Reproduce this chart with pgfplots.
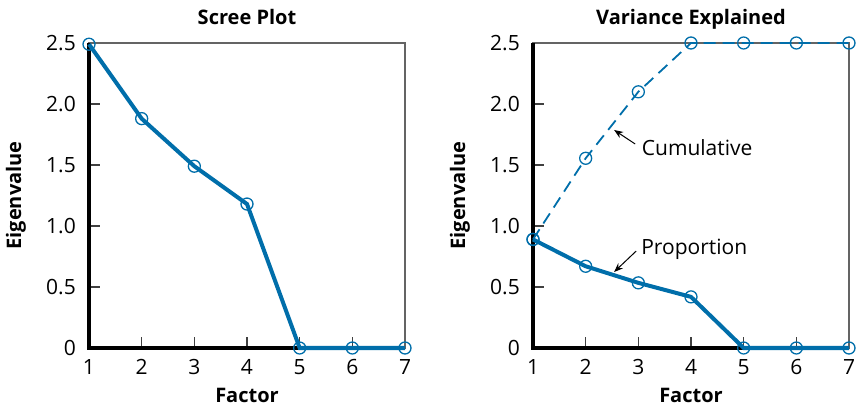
\documentclass[border=0pt]{standalone}
\usepackage{fontspec}
\setmainfont{Open Sans}
\usepackage{pgfplots}
\pgfplotsset{compat=1.18}
\usetikzlibrary{arrows.meta}
\definecolor{pblue}{RGB}{0,110,170}
\definecolor{boxgray}{RGB}{100,100,100}
\newcommand{\bigf}{\fontsize{20bp}{24bp}\selectfont}
\newcommand{\regf}{\fontsize{21bp}{25bp}\selectfont}
\pgfplotsset{
 myaxis/.style={
  scale only axis, width=316bp, height=305bp,
  xmin=1, xmax=7, ymin=0, ymax=2.5,
  xtick={1,2,3,4,5,6,7}, ytick={0,0.5,1,1.5,2,2.5},
  xticklabels={1,2,3,4,5,6,7},
  yticklabels={0,0.5,1.0,1.5,2.0,2.5},
  tick pos=left, tick align=inside,
  major tick length=11bp,
  every tick/.style={draw=black!75, line width=1.2bp},
  axis line style={draw=boxgray, line width=1.2bp},
  clip=false,
  tick label style={font=\regf},
  xticklabel style={anchor=base, inner sep=0pt, yshift=-26bp},
  yticklabel style={anchor=east, inner sep=0pt, xshift=-13bp},
  anchor=south west,
 },
 solidser/.style={draw=pblue, line width=4bp, mark=o, mark size=6bp,
   mark options={solid, draw=pblue, line width=1.3bp}},
 dashser/.style={draw=pblue, line width=1.8bp, dash pattern=on 12bp off 7bp, mark=o, mark size=6bp,
   mark options={solid, draw=pblue, line width=1.3bp}},
}
\begin{document}
\begin{tikzpicture}
\path[use as bounding box] (0,0) rectangle (856bp,410bp);
% Left panel
\begin{axis}[myaxis, at={(89bp,62bp)}]
\draw[black, line width=3.5bp] (rel axis cs:0,1) -- (rel axis cs:0,0) -- (rel axis cs:1,0);
\addplot[solidser] coordinates {(1,2.49) (2,1.88) (3,1.49) (4,1.18) (5,0) (6,0) (7,0)};
\node[font=\bigf\bfseries, anchor=base] at (axis description cs:0.5,1.062) {Scree Plot};
\node[font=\bigf\bfseries, anchor=base] at (axis description cs:0.5,-0.180) {Factor};
\node[font=\bigf\bfseries, anchor=base, rotate=90] at (axis description cs:-0.215,0.5) {Eigenvalue};
\end{axis}
% Right panel
\begin{axis}[myaxis, at={(533bp,62bp)}]
\draw[black, line width=3.5bp] (rel axis cs:0,1) -- (rel axis cs:0,0) -- (rel axis cs:1,0);
\addplot[dashser] coordinates {(1,0.89) (2,1.555) (3,2.10) (4,2.5) (5,2.5) (6,2.5) (7,2.5)};
\addplot[solidser] coordinates {(1,0.89) (2,0.67) (3,0.534) (4,0.419) (5,0) (6,0) (7,0)};
\node[font=\regf, anchor=base west] at (axis cs:3.0,1.58) {Cumulative};
\draw[-{Stealth[length=9bp,width=7bp]}, line width=1bp] (axis cs:2.94,1.672) -- (axis cs:2.54,1.787);
\node[font=\regf, anchor=base west] at (axis cs:2.99,0.77) {Proportion};
\draw[-{Stealth[length=9bp,width=7bp]}, line width=1bp] (axis cs:2.96,0.795) -- (axis cs:2.54,0.623);
\node[font=\bigf\bfseries, anchor=base] at (axis description cs:0.5,1.062) {Variance Explained};
\node[font=\bigf\bfseries, anchor=base] at (axis description cs:0.5,-0.180) {Factor};
\node[font=\bigf\bfseries, anchor=base, rotate=90] at (axis description cs:-0.215,0.5) {Eigenvalue};
\end{axis}
\end{tikzpicture}
\end{document}
